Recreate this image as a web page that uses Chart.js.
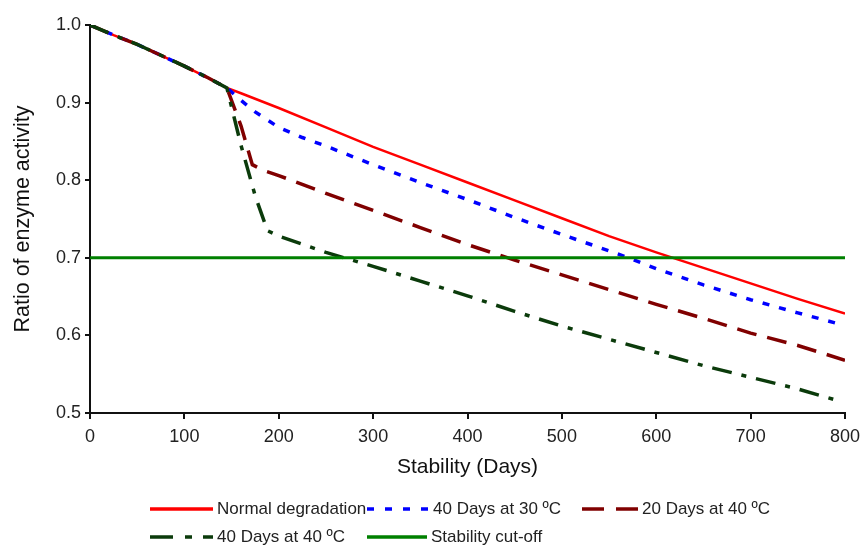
<!DOCTYPE html>
<html>
<head>
<meta charset="utf-8">
<script src="https://cdn.jsdelivr.net/npm/chart.js@4"></script>
<style>
    html, body { margin: 0; padding: 0; background: #fff; }
    #wrap { position: relative; width: 860px; height: 546px; font-family: "Liberation Sans", Arial, sans-serif; }
    #legend { position: absolute; left: 0; top: 0; width: 860px; height: 546px; pointer-events: none; }
    .item { position: absolute; display: flex; align-items: center; height: 24px; font-size: 17px; color: #222; white-space: nowrap; }
    .item svg { margin-right: 4px; }
</style>
</head>
<body>
<div id="wrap">
    <canvas id="myChart" width="860" height="546"></canvas>
    <div id="legend"></div>
</div>
<script>
// 共通区間（0〜145日）
const commonDays = [0, 25, 50, 75, 100, 125, 145];
const commonValues = [1.0, 0.987, 0.975, 0.961, 0.947, 0.932, 0.919];

// Normal degradation
const normalDays = [160, 200, 250, 300, 350, 400, 450, 500, 550, 600, 650, 700, 750, 800];
const normalValues = [0.912, 0.893, 0.868, 0.843, 0.82, 0.797, 0.774, 0.751, 0.728, 0.707, 0.687, 0.667, 0.647, 0.628];

// 40 Days at 30 ºC
const d40t30Days = [160, 175, 200, 225, 250, 300, 350, 400, 450, 500, 550, 575, 600, 650, 700, 750, 790];
const d40t30Values = [0.903, 0.888, 0.868, 0.855, 0.844, 0.82, 0.797, 0.775, 0.752, 0.73, 0.709, 0.698, 0.686, 0.665, 0.646, 0.629, 0.616];

// 20 Days at 40 ºC
const d20t40Days = [160, 172, 185, 200, 250, 300, 350, 400, 450, 500, 550, 600, 650, 700, 750, 800];
const d20t40Values = [0.87, 0.82, 0.812, 0.806, 0.783, 0.761, 0.739, 0.717, 0.697, 0.678, 0.659, 0.64, 0.622, 0.603, 0.587, 0.568];

// 40 Days at 40 ºC
const d40t40Days = [160, 175, 188, 200, 250, 300, 350, 400, 450, 500, 550, 600, 650, 700, 750, 795];
const d40t40Values = [0.845, 0.78, 0.735, 0.728, 0.707, 0.689, 0.67, 0.651, 0.631, 0.612, 0.595, 0.578, 0.561, 0.546, 0.531, 0.515];

// Stability cut-off
const cutoffDays = [0, 800];
const cutoffValues = [0.7, 0.7];

// 軸
const xTicks = [0, 100, 200, 300, 400, 500, 600, 700, 800];
const yTicks = [0.5, 0.6, 0.7, 0.8, 0.9, 1.0];

const main = () => {
    const chart = createChart();
    createLegend(chart);
};

/**
 * 日数と値の配列から点の配列を作ります。
 */
const toPoints = (days, values) => days.map((d, i) => ({ x: d, y: values[i] }));

/**
 * 共通区間に続けた系列を作ります。
 */
const withCommon = (days, values) => toPoints(commonDays.concat(days), commonValues.concat(values));

/**
 * グラフの生成を行います。
 */
const createChart = () => {
    const font = '"Liberation Sans", Arial, sans-serif';

    const chartData = {
        datasets: [
            {
                label: 'Stability cut-off',
                borderColor: '#008000',
                borderWidth: 3,
                data: toPoints(cutoffDays, cutoffValues),
                legendRow: 1, legendX: 367, legendW: 60,
            },
            {
                label: '40 Days at 40 ºC',
                borderColor: '#0b3b0b',
                borderWidth: 3.5,
                borderDash: [20, 10, 5, 10],
                data: withCommon(d40t40Days, d40t40Values),
                legendRow: 1, legendX: 150, legendW: 63, legendDash: [23, 12, 7, 11],
            },
            {
                label: '20 Days at 40 ºC',
                borderColor: '#800000',
                borderWidth: 3.5,
                borderDash: [20, 11],
                data: withCommon(d20t40Days, d20t40Values),
                legendRow: 0, legendX: 582, legendW: 56, legendDash: [22, 12],
            },
            {
                label: '40 Days at 30 ºC',
                borderColor: '#0000ff',
                borderWidth: 3.5,
                borderDash: [7, 10],
                data: withCommon(d40t30Days, d40t30Values),
                legendRow: 0, legendX: 367, legendW: 62, legendDash: [7, 11],
            },
            {
                label: 'Normal degradation',
                borderColor: '#ff0000',
                borderWidth: 2.5,
                data: withCommon(normalDays, normalValues),
                legendRow: 0, legendX: 150, legendW: 63,
            },
        ],
    };

    const config = {
        type: 'line',
        data: chartData,
        options: {
            responsive: false,
            animation: false,
            layout: {
                padding: { left: 0, top: 25, right: 15, bottom: 66 },
            },
            elements: {
                point: { radius: 0 },
                line: { tension: 0, fill: false },
            },
            plugins: {
                legend: { display: false },
                tooltip: { enabled: false },
            },
            scales: {
                x: {
                    type: 'linear',
                    min: 0,
                    max: 800,
                    afterFit: (scale) => {
                        scale.height = 67;
                        scale.paddingLeft = 0;
                        scale.paddingRight = 0;
                    },
                    afterBuildTicks: (scale) => { scale.ticks = xTicks.map((v) => ({ value: v })); },
                    ticks: {
                        color: '#222',
                        padding: 7,
                        maxRotation: 0,
                        font: { family: font, size: 18 },
                    },
                    grid: {
                        display: true,
                        drawOnChartArea: false,
                        drawTicks: true,
                        tickLength: 6,
                        color: '#111',
                        lineWidth: 2,
                    },
                    border: { display: true, color: '#111', width: 2 },
                    title: {
                        display: true,
                        text: 'Stability (Days)',
                        color: '#111',
                        padding: { top: 0, bottom: 0 },
                        font: { family: font, size: 21 },
                    },
                },
                y: {
                    type: 'linear',
                    min: 0.5,
                    max: 1.0,
                    afterFit: (scale) => {
                        scale.width = 90;
                        scale.paddingTop = 0;
                        scale.paddingBottom = 0;
                    },
                    afterBuildTicks: (scale) => { scale.ticks = yTicks.map((v) => ({ value: v })); },
                    ticks: {
                        color: '#222',
                        padding: 4,
                        font: { family: font, size: 18 },
                        callback: (value) => value.toFixed(1),
                    },
                    grid: {
                        display: true,
                        drawOnChartArea: false,
                        drawTicks: true,
                        tickLength: 5,
                        color: '#111',
                        lineWidth: 2,
                    },
                    border: { display: true, color: '#111', width: 2 },
                    title: {
                        display: true,
                        text: 'Ratio of enzyme activity',
                        color: '#111',
                        padding: { top: 10, bottom: 0 },
                        font: { family: font, size: 21.5 },
                    },
                },
            },
        },
    };

    const chart = new Chart(document.getElementById('myChart'), config);

    return chart;
};

/**
 * 凡例を生成します。
 * @param {Chart} chart
 */
const createLegend = (chart) => {
    const legend = document.getElementById('legend');
    const rowY = [497, 525];

    chart.data.datasets.forEach((ds) => {
        const item = document.createElement('div');
        item.className = 'item';
        item.style.left = ds.legendX + 'px';
        item.style.top = rowY[ds.legendRow] + 'px';

        const svgNs = 'http://www.w3.org/2000/svg';
        const svg = document.createElementNS(svgNs, 'svg');
        svg.setAttribute('width', ds.legendW);
        svg.setAttribute('height', 10);
        const line = document.createElementNS(svgNs, 'line');
        line.setAttribute('x1', 0);
        line.setAttribute('x2', ds.legendW);
        line.setAttribute('y1', 5);
        line.setAttribute('y2', 5);
        line.setAttribute('stroke', ds.borderColor);
        line.setAttribute('stroke-width', 3.5);
        if (ds.legendDash) {
            line.setAttribute('stroke-dasharray', ds.legendDash.join(' '));
        }
        svg.appendChild(line);

        const text = document.createElement('span');
        text.innerText = ds.label;

        item.appendChild(svg);
        item.appendChild(text);
        legend.appendChild(item);
    });
};

main();
</script>
</body>
</html>
